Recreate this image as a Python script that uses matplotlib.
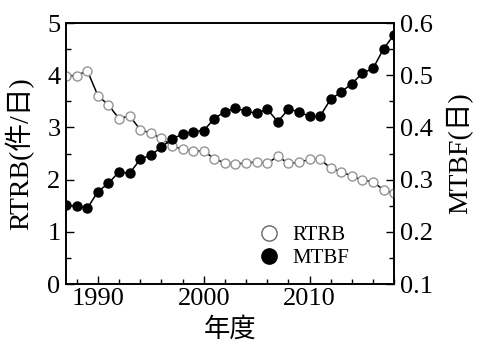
import matplotlib
matplotlib.use("Agg")
import matplotlib.pyplot as plt
from matplotlib.ticker import MultipleLocator
from matplotlib.lines import Line2D

plt.rcParams['font.family'] = ['Liberation Serif', 'Noto Sans CJK JP']

years = list(range(1987, 2019))
rtrb = [3.99, 3.99, 4.09, 3.61, 3.43, 3.17, 3.22, 2.96, 2.89, 2.79,
        2.65, 2.58, 2.55, 2.55, 2.40, 2.32, 2.30, 2.32, 2.34, 2.31,
        2.45, 2.31, 2.33, 2.39, 2.39, 2.22, 2.15, 2.07, 1.99, 1.96,
        1.80, 1.74]
mtbf = [0.251, 0.250, 0.245, 0.277, 0.293, 0.315, 0.312, 0.339, 0.347, 0.362,
        0.378, 0.387, 0.392, 0.394, 0.417, 0.430, 0.437, 0.431, 0.427, 0.435,
        0.411, 0.435, 0.430, 0.421, 0.422, 0.454, 0.468, 0.484, 0.504, 0.513,
        0.551, 0.578]
x_ticks = [1990, 2000, 2010]
left_ticks = [0, 1, 2, 3, 4, 5]
right_ticks = [0.1, 0.2, 0.3, 0.4, 0.5, 0.6]

fig = plt.figure(figsize=(4.79, 3.49), dpi=100)
ax = fig.add_axes([0.138, 0.186, 0.685, 0.748])
ax2 = ax.twinx()

ax.plot(years, rtrb, color='black', lw=1.1, marker='o', ms=6.5,
        mfc='white', mec='#959595', mew=1.0, zorder=3)
ax2.plot(years, mtbf, color='black', lw=1.1, marker='o', ms=6.5,
         mfc='black', mec='black', zorder=3)

ax.set_xlim(1987, 2018)
ax.set_ylim(0, 5)
ax2.set_ylim(0.1, 0.6)

ax.set_xticks(x_ticks)
ax.xaxis.set_minor_locator(MultipleLocator(2))
ax.set_yticks(left_ticks)
ax.yaxis.set_minor_locator(MultipleLocator(0.5))
ax2.set_yticks(right_ticks)
ax2.set_yticklabels([f'{v:.1f}' for v in right_ticks])
ax2.yaxis.set_minor_locator(MultipleLocator(0.05))

for a in (ax, ax2):
    a.tick_params(which='major', direction='in', length=6, width=1.0,
                  labelsize=19, pad=4)
    a.tick_params(which='minor', direction='in', length=3.5, width=1.0)
    for s in a.spines.values():
        s.set_linewidth(1.2)
ax.tick_params(axis='y', which='both', right=False)
ax.tick_params(axis='x', pad=3)

ax.set_xlabel('年度', fontsize=19, labelpad=5)
ax.set_ylabel('RTRB(件/日)', fontsize=20, labelpad=9)
ax2.set_ylabel('MTBF(日)', fontsize=20, labelpad=9)

handles = [
    Line2D([], [], ls='none', marker='o', ms=11, mfc='white', mec='#666666', mew=1.0),
    Line2D([], [], ls='none', marker='o', ms=11, mfc='black', mec='black'),
]
ax.legend(handles, ['RTRB', 'MTBF'], loc='lower right', frameon=False,
          fontsize=15, handlelength=1.0, handletextpad=0.6, labelspacing=0.15,
          bbox_to_anchor=(0.92, -0.01))

fig.savefig('out.png', dpi=100)
